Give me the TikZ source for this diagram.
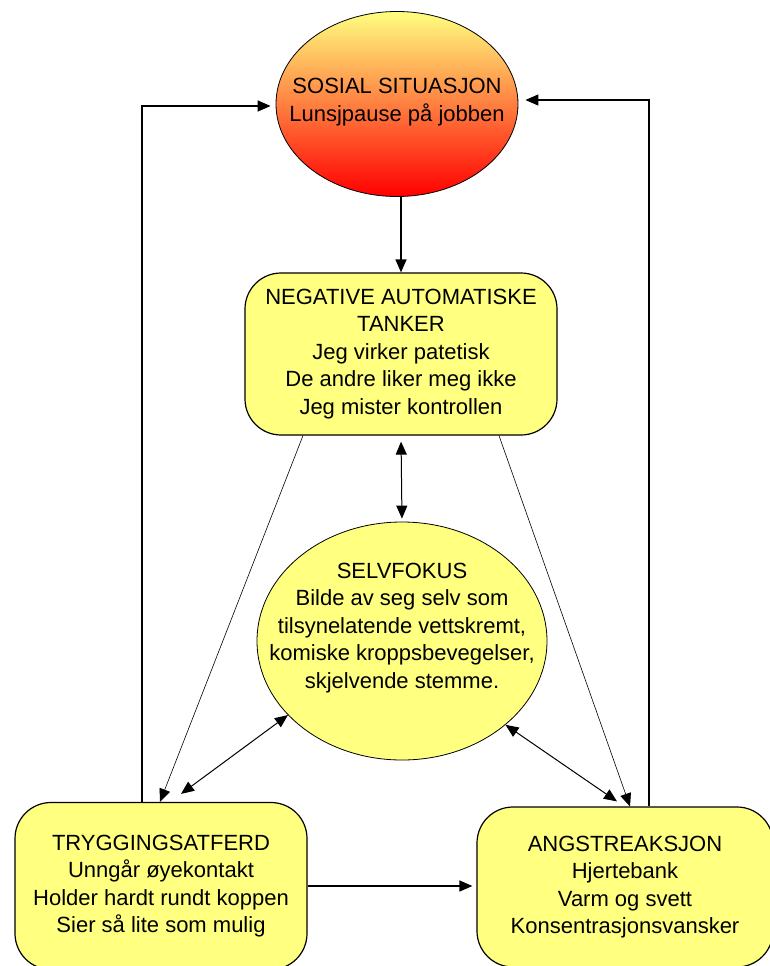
\documentclass[tikz,border=0pt]{standalone}
\usepackage{fontspec}
\setmainfont{Liberation Sans}
\usetikzlibrary{shapes.geometric, arrows.meta}
\definecolor{paleyellow}{RGB}{255,255,128}

\begin{document}
\begin{tikzpicture}[x=1pt, y=-1pt, >={Triangle[length=13pt, width=11pt]},
	font=\fontsize{22}{27.5}\selectfont,
	box/.style={draw, line width=1.2pt, fill=paleyellow, rounded corners=36pt, align=center},
	oval/.style={ellipse, draw, line width=0.8pt, inner sep=0pt},
	txt/.style={align=center},
	link/.style={->, line width=1.3pt},
	faint/.style={->, line width=0.6pt},
	both/.style={<->, line width=1pt}]
	\useasboundingbox (0,0) rectangle (770,966);

	\node[oval, minimum width=242pt, minimum height=185pt, top color=paleyellow, bottom color=red] (sit) at (397,104) {};
	\node[txt] at (397,102) {SOSIAL SITUASJON\\Lunsjpause på jobben};

	\node[box, minimum width=312pt, minimum height=162pt] (nat) at (401,354) {NEGATIVE AUTOMATISKE\\TANKER\\Jeg virker patetisk\\De andre liker meg ikke\\Jeg mister kontrollen};

	\node[oval, minimum width=290pt, minimum height=238pt, fill=paleyellow] (selv) at (402,641) {};
	\node[txt] at (402,628) {SELVFOKUS\\Bilde av seg selv som\\tilsynelatende vettskremt,\\komiske kroppsbevegelser,\\skjelvende stemme.};

	\node[box, minimum width=292pt, minimum height=167pt] (trygg) at (161,886) {TRYGGINGSATFERD\\Unngår øyekontakt\\Holder hardt rundt koppen\\Sier så lite som mulig};
	\node[box, minimum width=296pt, minimum height=160pt] (angst) at (625,887) {ANGSTREAKSJON\\Hjertebank\\Varm og svett\\Konsentrasjonsvansker};

	\draw[link] (nat.north |- sit.south) -- (nat.north);
	\draw[both, shorten <=6pt, shorten >=3pt] (nat.south) -- (selv.north);
	\draw[faint] ([xshift=-98pt]nat.south) -- ([xshift=-1pt]trygg.north);
	\draw[faint] ([xshift=98pt]nat.south) -- ([xshift=5pt]angst.north);
	\draw[both] (selv.-147) -- ([xshift=20pt, yshift=8pt]trygg.north);
	\draw[both] (selv.-39) -- ([xshift=-8pt, yshift=5pt]angst.north);
	\draw[link, shorten >=4pt] (trygg.east) -- (trygg.east -| angst.west);
	\draw[link] ([xshift=-19pt]trygg.north) |- ([xshift=-5pt, yshift=-2pt]sit.west);
	\draw[link] ([xshift=24pt]angst.north) |- ([xshift=7pt, yshift=4pt]sit.east);
\end{tikzpicture}
\end{document}
